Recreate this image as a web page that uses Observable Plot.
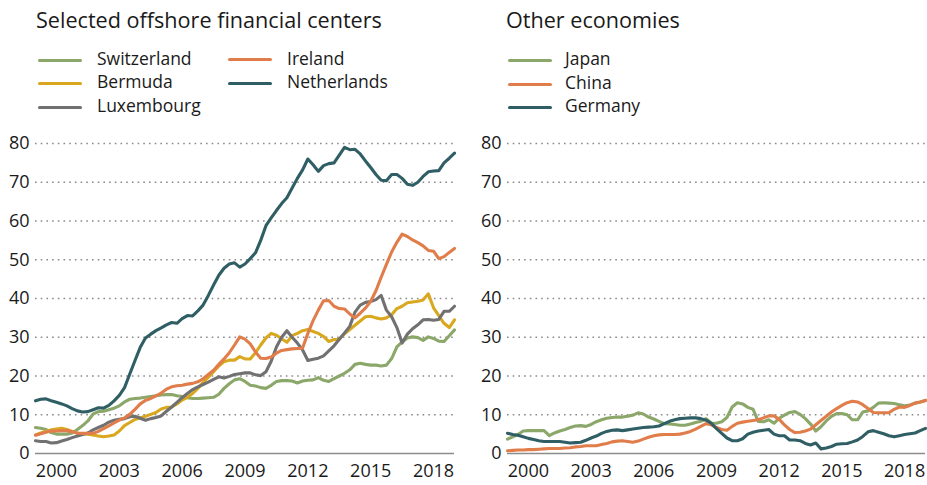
<!DOCTYPE html>
<html>
<head>
<meta charset="utf-8">
<script src="https://cdn.jsdelivr.net/npm/d3@7"></script>
<script src="https://cdn.jsdelivr.net/npm/@observablehq/plot@0.6"></script>
<style>
  html, body { margin: 0; padding: 0; background: #fff; }
  body { width: 927px; height: 485px; position: relative; overflow: hidden; font-family: "Open Sans", Lato, sans-serif; color: #1a1a1a; }
  .panel { position: absolute; top: 0; }
  .title { position: absolute; top: 4.5px; font-size: 21.6px; white-space: nowrap; line-height: normal; }
  .sw { position: absolute; width: 44px; height: 3px; border-radius: 1.5px; }
  .lt { position: absolute; font-size: 17.5px; white-space: nowrap; line-height: normal; }
  .chart { position: absolute; top: 130px; left: 0; }
</style>
</head>
<body>
<div id="left" class="panel" style="left:0;width:463px;height:485px"></div>
<div id="right" class="panel" style="left:472px;width:455px;height:485px"></div>
<script>
// Quarterly observations, 1999Q1 .. 2019Q1
const quarters = d3.range(81).map(i => 1999 + i / 4);
const xTicks = [2000, 2003, 2006, 2009, 2012, 2015, 2018];
const yTicks = [0, 10, 20, 30, 40, 50, 60, 70, 80];

const leftTitle = "Selected offshore financial centers";
const rightTitle = "Other economies";

const leftSeries = ["Switzerland", "Bermuda", "Luxembourg", "Ireland", "Netherlands"];
const rightSeries = ["Japan", "China", "Germany"];

const colors = {
  Switzerland: "#8ba76a", Bermuda: "#d9a81e", Luxembourg: "#717171", Ireland: "#e07d4a", Netherlands: "#2f5e65",
  Japan: "#8ba76a", China: "#e07d4a", Germany: "#2f5e65"
};

const switzerland = [6.7,6.5,6.2,5.4,5.0,5.0,5.0,5.3,6.2,7.2,8.4,10.2,10.8,10.9,11.3,11.7,12.3,13.3,14.0,14.2,14.3,14.5,14.7,14.9,15.1,15.2,15.2,14.9,14.7,14.4,14.2,14.2,14.3,14.4,14.5,15.3,16.8,18.0,19.0,19.3,18.6,17.6,17.4,17.0,16.8,17.6,18.6,18.8,18.8,18.7,18.2,18.7,18.9,19.0,19.6,18.9,18.6,19.3,20.0,20.7,21.6,23.0,23.3,23.0,22.8,22.8,22.6,22.8,24.5,27.5,28.8,29.8,30.1,29.9,29.2,30.1,29.7,29.0,28.9,30.4,31.9];
const bermuda = [4.8,5.3,5.7,6.1,6.3,6.5,6.2,5.7,5.2,5.1,5.0,4.8,4.5,4.3,4.5,4.8,5.8,7.2,8.0,8.8,9.2,9.6,10.1,10.6,11.5,11.9,12.0,12.8,13.8,14.5,15.5,16.8,18.3,19.7,21.1,22.6,23.7,24.1,24.1,25.0,24.4,24.4,26.0,28.0,29.8,31.0,30.5,29.6,28.7,30.4,31.0,31.7,32.0,31.5,31.0,30.2,28.9,29.4,29.5,30.9,32.0,33.1,34.2,35.3,35.4,35.0,34.7,35.0,35.8,37.4,38.0,38.9,39.1,39.3,39.6,41.2,37.6,35.6,33.6,32.5,34.5];
const luxembourg = [3.3,3.1,3.1,2.7,2.8,3.2,3.6,4.1,4.5,4.9,5.3,6.1,6.7,7.3,8.1,8.6,8.8,9.0,9.5,9.6,9.1,8.6,9.0,9.3,9.7,10.9,12.0,13.2,14.4,15.5,16.5,17.2,17.8,18.4,19.1,19.8,19.5,19.9,20.4,20.6,20.8,20.8,20.3,20.1,21.1,23.8,27.5,30.0,31.7,30.0,28.5,26.7,24.0,24.3,24.6,25.2,26.5,27.8,29.5,31.1,32.8,36.5,38.3,39.0,39.2,39.7,40.8,37.0,35.3,32.5,28.5,30.8,32.2,33.2,34.5,34.6,34.4,34.6,36.7,36.7,38.0];
const ireland = [4.7,5.1,5.5,5.8,5.8,5.9,5.9,5.6,5.3,5.2,5.2,5.2,5.7,6.4,7.1,7.9,8.6,9.2,10.1,11.4,12.8,13.7,14.2,14.9,15.6,16.6,17.2,17.5,17.6,17.9,18.1,18.5,19.3,20.4,21.5,23.0,24.4,26.0,28.0,30.1,29.5,28.3,26.2,24.6,24.5,24.9,25.9,26.6,26.8,27.0,27.1,27.2,31.0,34.3,37.0,39.4,39.5,38.0,37.4,37.3,36.0,35.0,36.2,37.5,39.3,42.0,45.5,48.8,52.0,54.5,56.6,56.0,55.1,54.4,53.6,52.4,52.2,50.3,50.8,51.9,52.9];
const netherlands = [13.6,14.0,14.1,13.6,13.2,12.8,12.3,11.6,11.0,10.7,10.8,11.3,11.8,11.7,12.4,13.6,15.0,17.0,20.5,24.0,27.4,29.8,30.8,31.7,32.4,33.2,33.8,33.6,34.8,35.6,35.5,36.8,38.3,40.8,43.5,46.0,47.8,48.9,49.2,48.1,48.9,50.3,51.8,55.0,58.8,60.8,62.7,64.5,66.0,68.5,71.0,73.2,76.0,74.5,72.8,74.3,74.8,75.0,77.0,79.0,78.4,78.5,77.3,75.5,73.8,72.0,70.5,70.4,72.0,72.0,71.0,69.5,69.2,70.0,71.5,72.7,72.9,73.0,75.0,76.2,77.5];

const japan = [3.7,4.3,4.9,5.8,5.9,5.9,5.9,5.9,4.6,5.3,5.8,6.2,6.7,7.1,7.2,7.0,7.5,8.2,8.7,9.1,9.3,9.4,9.4,9.6,9.9,10.5,10.2,9.4,8.9,8.3,7.7,7.6,7.5,7.3,7.3,7.6,8.0,8.3,9.0,7.8,7.8,8.2,9.3,12.0,13.1,12.8,11.9,11.4,8.3,8.2,8.7,7.8,9.1,9.9,10.6,10.8,10.1,9.0,7.6,5.8,6.9,8.4,9.6,10.3,10.3,10.0,8.7,8.7,10.7,11.0,11.9,13.0,13.1,13.0,12.9,12.6,12.3,12.5,13.0,13.3,13.7];
const china = [0.7,0.8,0.9,0.9,1.0,1.0,1.1,1.2,1.3,1.3,1.3,1.4,1.5,1.7,1.8,2.0,2.0,2.0,2.3,2.6,3.0,3.2,3.3,3.1,2.9,3.2,3.7,4.2,4.6,4.8,4.9,4.9,4.9,5.0,5.3,5.7,6.3,7.0,7.7,7.4,6.7,6.2,6.0,7.0,7.8,8.1,8.3,8.5,8.7,9.2,9.7,9.7,8.8,7.4,6.2,5.4,5.5,5.8,6.3,7.4,8.5,9.6,10.7,11.6,12.4,13.1,13.5,13.3,12.6,11.6,10.6,10.5,10.5,10.5,11.4,12.0,11.9,12.4,13.0,13.3,13.7];
const germany = [5.2,4.9,4.7,4.3,3.9,3.6,3.3,3.1,3.1,3.1,3.1,2.9,2.7,2.8,2.9,3.4,4.0,4.5,5.2,5.7,6.0,6.1,5.9,6.1,6.3,6.5,6.7,6.8,6.9,7.1,7.7,8.3,8.7,9.0,9.1,9.2,9.2,9.0,8.6,7.8,6.4,5.2,4.0,3.3,3.3,3.8,5.0,5.5,5.8,6.0,6.2,5.0,4.6,4.6,3.5,3.5,3.3,2.6,2.2,2.7,1.2,1.4,1.8,2.4,2.5,2.6,3.0,3.5,4.4,5.6,5.9,5.5,5.1,4.6,4.3,4.6,4.9,5.1,5.3,5.9,6.5];

const seriesValues = {
  Switzerland: switzerland, Bermuda: bermuda, Luxembourg: luxembourg, Ireland: ireland, Netherlands: netherlands,
  Japan: japan, China: china, Germany: germany
};

function rows(names) {
  return names.flatMap(name => seriesValues[name].map((v, i) => ({name, t: quarters[i], v})));
}

function buildChart(names, width, marginRight) {
  const data = rows(names);
  return Plot.plot({
    width, height: 355,
    marginTop: 13, marginBottom: 32, marginLeft: 35, marginRight,
    style: {fontFamily: "'Open Sans', Lato, sans-serif", fontSize: "18px", color: "#1a1a1a", background: "transparent"},
    x: {domain: [1999, 2019], ticks: xTicks, tickFormat: d => String(d)},
    y: {domain: [0, 80], ticks: yTicks},
    marks: [
      Plot.ruleY(yTicks.filter(d => d > 0), {stroke: "#8a8a8a", strokeWidth: 1.6, strokeDasharray: "1.6,4.1"}),
      Plot.ruleY([0], {stroke: "#8c8c8c", strokeWidth: 1.6}),
      Plot.axisX({ticks: xTicks, tickFormat: d => String(d), tickSize: 0, tickPadding: 11, fontSize: 18, label: null}),
      Plot.axisY({ticks: yTicks, tickSize: 0, tickPadding: 6, fontSize: 18, label: null}),
      ...names.map(name => Plot.line(data.filter(d => d.name === name), {
        x: "t", y: "v", stroke: colors[name], strokeWidth: 3.1, strokeLinejoin: "round", strokeLinecap: "round"
      }))
    ]
  });
}

function legendItem(parent, name, x, y, textX) {
  const sw = document.createElement("div");
  sw.className = "sw";
  sw.style.left = x + "px";
  sw.style.top = (y - 1.5) + "px";
  sw.style.background = colors[name];
  parent.appendChild(sw);
  const t = document.createElement("div");
  t.className = "lt";
  t.style.left = textX + "px";
  t.style.top = (y - 13.7) + "px";
  t.textContent = name;
  parent.appendChild(t);
}

function panel(id, title, names, legendPos, width, marginRight, titleX) {
  const root = document.getElementById(id);
  const t = document.createElement("div");
  t.className = "title";
  t.style.left = titleX + "px";
  t.textContent = title;
  root.appendChild(t);
  names.forEach((n, i) => legendItem(root, n, legendPos[i][0], legendPos[i][1], legendPos[i][2]));
  const c = document.createElement("div");
  c.className = "chart";
  c.appendChild(buildChart(names, width, marginRight));
  root.appendChild(c);
}

panel("left", leftTitle, leftSeries,
  [[38, 60, 97], [38, 83, 97], [38, 107, 97], [228, 59.5, 287], [228, 83, 287]], 463, 9, 36);
panel("right", rightTitle, rightSeries,
  [[36, 60, 93], [36, 84, 93], [36, 107, 93]], 455, 2, 34);
</script>
</body>
</html>
